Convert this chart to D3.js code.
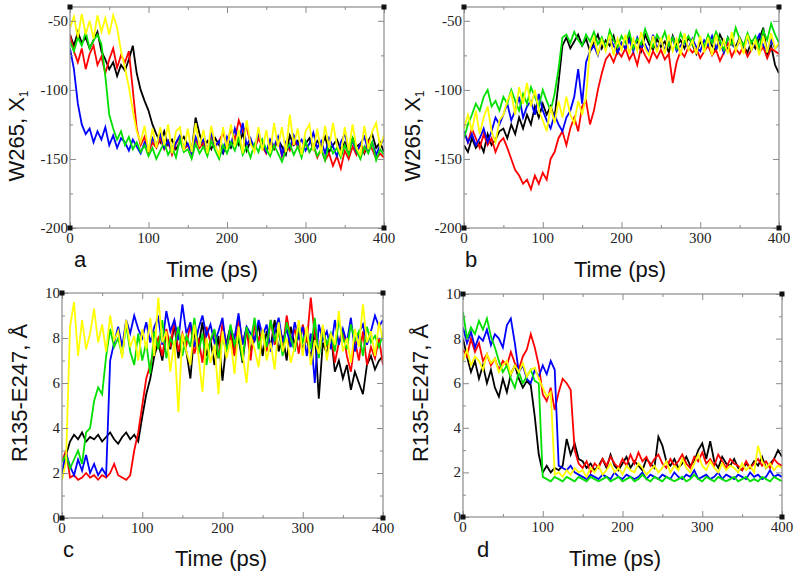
<!DOCTYPE html>
<html>
<head>
<meta charset="utf-8">
<script src="https://cdn.jsdelivr.net/npm/d3@7"></script>
<style>
  body { margin: 0; background: #fff; }
  svg { display: block; }
</style>
</head>
<body>
<svg id="chart" width="800" height="580"></svg>
<script>
// ---- DATA (sampled every 5 ps, 0..400) ----
const times = d3.range(0, 401, 5);
const seriesNames = ["black", "red", "blue", "green", "yellow"];
const xTicks = [0, 100, 200, 300, 400];
const xMinorTicks = [50, 150, 250, 350];
const chiTicks = [-200, -150, -100, -50];
const chiMinorTicks = [-175, -125, -75];
const distTicks = [0, 2, 4, 6, 8, 10];
const distMinorTicks = [1, 3, 5, 7, 9];

// Panel a : W265 chi1
const a_black = [-60,-68,-58,-66,-62,-70,-64,-58,-72,-78,
  -85,-80,-90,-82,-86,-78,-68,-88,-100,-108,
  -115,-125,-132,-138,-130,-140,-136,-143,-138,-134,
  -140,-145,-120,-132,-141,-137,-143,-135,-140,-146,
  -138,-142,-135,-140,-131,-144,-137,-142,-134,-140,
  -145,-138,-143,-136,-141,-147,-133,-140,-137,-144,
  -139,-135,-143,-137,-141,-134,-145,-140,-136,-143,
  -138,-144,-135,-141,-139,-146,-137,-132,-142,-138,
  -145];
const a_red = [-60,-72,-80,-70,-85,-74,-68,-82,-76,-88,
  -78,-70,-84,-75,-80,-72,-100,-128,-140,-134,
  -145,-138,-142,-135,-143,-137,-147,-139,-134,-143,
  -140,-146,-136,-142,-138,-145,-133,-141,-137,-131,
  -140,-128,-136,-122,-130,-127,-139,-143,-135,-141,
  -146,-137,-142,-135,-148,-139,-144,-136,-141,-147,
  -138,-145,-140,-149,-143,-151,-146,-155,-148,-157,
  -144,-150,-141,-147,-139,-145,-137,-143,-150,-146,
  -149];
const a_blue = [-70,-85,-110,-125,-132,-128,-138,-130,-136,-127,
  -140,-133,-142,-135,-138,-144,-136,-141,-146,-138,
  -143,-135,-140,-132,-142,-137,-145,-138,-133,-142,
  -139,-146,-134,-140,-136,-144,-131,-141,-137,-145,
  -134,-140,-128,-138,-124,-140,-135,-143,-131,-139,
  -145,-136,-141,-134,-147,-138,-142,-133,-140,-136,
  -144,-139,-131,-142,-137,-146,-135,-141,-148,-138,
  -132,-143,-137,-145,-139,-134,-144,-138,-147,-140,
  -136];
const a_green = [-65,-72,-62,-68,-58,-70,-64,-60,-67,-90,
  -118,-128,-136,-130,-140,-134,-143,-138,-145,-140,
  -148,-142,-150,-144,-138,-147,-141,-149,-136,-145,
  -143,-150,-139,-146,-141,-148,-137,-144,-150,-140,
  -146,-138,-144,-135,-147,-141,-149,-139,-145,-136,
  -143,-148,-140,-146,-152,-144,-139,-147,-141,-149,
  -137,-145,-140,-148,-143,-151,-139,-146,-142,-149,
  -140,-147,-135,-144,-150,-141,-146,-138,-151,-143,
  -147];
const a_yellow = [-55,-47,-62,-45,-60,-50,-63,-46,-58,-48,
  -60,-46,-55,-72,-84,-98,-115,-130,-138,-126,
  -145,-128,-142,-127,-140,-125,-146,-130,-127,-144,
  -128,-145,-124,-141,-129,-146,-126,-140,-147,-127,
  -143,-125,-141,-129,-146,-122,-139,-145,-127,-144,
  -129,-146,-124,-141,-127,-145,-118,-140,-128,-147,
  -130,-125,-144,-128,-146,-126,-142,-124,-140,-147,
  -127,-144,-125,-142,-147,-126,-143,-130,-124,-141,
  -133];

// Panel b : W265 chi1
const b_black = [-140,-145,-135,-142,-138,-145,-132,-140,-136,-130,
  -128,-135,-125,-132,-120,-128,-118,-125,-112,-120,
  -110,-118,-112,-120,-95,-68,-62,-70,-65,-60,
  -68,-63,-72,-66,-60,-70,-64,-68,-61,-73,
  -66,-70,-62,-69,-64,-72,-60,-67,-71,-63,
  -69,-65,-73,-61,-68,-64,-70,-62,-67,-74,
  -65,-70,-63,-68,-72,-60,-66,-71,-64,-69,
  -62,-68,-73,-65,-70,-63,-55,-75,-68,-82,
  -88];
const b_red = [-130,-138,-128,-135,-142,-132,-140,-135,-145,-138,
  -135,-142,-150,-158,-162,-168,-165,-172,-162,-168,
  -160,-165,-150,-145,-135,-130,-140,-128,-120,-130,
  -112,-108,-125,-115,-100,-88,-78,-74,-80,-72,
  -76,-70,-78,-73,-82,-69,-75,-80,-72,-77,
  -71,-78,-74,-95,-80,-72,-76,-69,-73,-70,
  -77,-72,-68,-75,-71,-79,-73,-66,-76,-70,
  -74,-68,-76,-71,-65,-73,-69,-77,-70,-72,
  -74];
const b_blue = [-130,-138,-132,-140,-135,-128,-138,-130,-120,-125,
  -118,-110,-122,-115,-105,-120,-112,-108,-118,-103,
  -115,-122,-128,-118,-125,-130,-120,-115,-105,-85,
  -110,-80,-72,-68,-75,-65,-70,-62,-68,-73,
  -66,-70,-64,-72,-62,-69,-67,-73,-60,-70,
  -64,-71,-66,-62,-72,-68,-65,-70,-63,-69,
  -72,-64,-68,-61,-70,-66,-73,-62,-67,-70,
  -65,-69,-62,-71,-66,-60,-68,-72,-64,-70,
  -67];
const b_green = [-135,-125,-118,-110,-115,-105,-100,-112,-108,-115,
  -105,-110,-100,-108,-115,-103,-110,-98,-105,-112,
  -100,-108,-115,-103,-85,-62,-60,-66,-58,-64,
  -68,-60,-65,-58,-67,-62,-70,-57,-64,-69,
  -61,-66,-58,-70,-63,-67,-56,-64,-69,-60,
  -65,-58,-68,-62,-70,-59,-66,-61,-67,-57,
  -63,-69,-60,-66,-58,-64,-71,-62,-67,-55,
  -63,-68,-59,-66,-61,-70,-57,-64,-52,-60,
  -66];
const b_yellow = [-128,-118,-130,-115,-132,-120,-112,-130,-138,-122,
  -118,-108,-102,-118,-98,-110,-95,-112,-100,-115,
  -122,-130,-112,-124,-108,-120,-105,-118,-124,-108,
  -118,-105,-70,-62,-74,-64,-72,-60,-75,-63,
  -71,-60,-74,-63,-72,-58,-70,-75,-61,-73,
  -62,-74,-60,-72,-63,-75,-59,-71,-64,-74,
  -61,-73,-62,-75,-60,-71,-64,-74,-58,-72,
  -63,-74,-60,-71,-64,-75,-61,-73,-59,-70,
  -66];

// Panel c : R135-E247 distance
const c_black = [2.0,2.8,3.4,3.7,3.5,3.8,3.4,3.6,3.5,3.7,
  3.4,3.6,3.8,3.5,3.3,3.6,3.8,3.5,3.7,3.4,
  4.5,5.5,6.2,7.2,7.8,7.0,8.2,7.5,8.6,7.1,
  8.0,7.4,6.2,8.3,7.6,8.7,7.2,7.9,6.8,8.1,
  6.1,7.8,8.5,7.3,8.0,6.9,8.4,7.5,7.9,8.6,
  7.2,8.3,7.6,8.8,7.4,8.1,7.0,8.5,7.7,8.2,
  7.5,8.0,7.1,8.4,5.3,7.8,7.3,8.2,6.5,7.0,
  6.2,6.8,5.7,6.5,6.0,5.5,6.8,7.2,6.6,7.0,
  7.2];
const c_red = [2.5,3.0,1.8,1.9,1.7,1.8,2.0,1.8,1.9,1.7,
  1.9,1.8,2.0,2.4,1.9,1.8,1.7,1.9,3.0,3.8,
  5.0,6.2,6.8,7.5,8.0,7.2,8.4,7.6,8.8,7.4,
  8.2,7.7,8.6,7.3,8.0,6.9,8.5,7.8,8.3,7.1,
  8.7,7.6,8.1,7.2,8.9,7.8,8.4,7.0,8.6,7.9,
  8.3,7.4,8.8,7.7,8.2,7.5,9.0,7.9,8.4,7.3,
  8.6,7.8,9.8,8.1,7.4,8.5,7.6,8.2,6.9,7.8,
  8.4,7.2,6.5,7.9,7.0,8.3,6.8,7.6,7.1,8.0,
  6.8];
const c_blue = [2.0,2.9,2.3,1.9,2.6,2.1,2.8,2.0,2.4,1.9,
  2.2,1.9,7.0,7.8,8.5,7.6,8.8,8.2,9.0,8.4,
  8.0,8.7,7.8,8.5,8.9,7.7,9.2,8.3,8.8,7.9,
  9.5,8.2,8.7,7.6,8.4,9.0,8.1,8.6,7.8,8.3,
  8.9,7.5,8.4,8.0,9.1,7.7,8.5,8.2,7.9,8.8,
  8.1,8.6,7.4,8.3,8.9,7.8,8.4,7.6,8.7,8.0,
  8.5,7.2,8.2,6.0,8.6,7.9,8.3,7.5,8.8,7.7,
  8.4,7.8,8.9,7.4,8.2,8.6,7.7,8.3,9.0,8.5,
  8.8];
const c_green = [2.5,2.8,2.2,2.6,3.0,2.4,3.8,4.0,5.2,5.8,
  5.5,7.2,8.4,7.6,8.0,7.2,8.6,7.4,6.8,8.2,
  7.0,7.8,6.4,8.3,7.5,8.8,7.1,8.0,7.6,8.5,
  7.2,8.1,7.6,8.9,7.3,8.2,6.8,7.9,8.4,7.1,
  8.0,7.4,8.6,7.7,8.2,7.0,8.5,7.8,8.9,7.5,
  8.3,7.6,8.8,7.9,8.4,7.2,8.7,8.0,7.4,8.6,
  7.8,8.3,7.5,8.9,7.1,8.4,7.7,8.2,7.4,8.8,
  8.0,7.5,8.6,7.9,8.3,7.2,8.5,7.8,8.1,7.6,
  8.2];
const c_yellow = [1.7,2.5,8.5,9.6,7.2,8.8,7.5,8.2,9.3,7.8,
  8.6,7.4,9.0,7.9,8.3,7.1,8.8,7.6,8.1,7.0,
  8.4,7.5,8.9,7.2,9.8,7.8,8.3,6.5,7.9,4.7,
  8.2,7.4,6.8,8.6,7.2,5.6,8.0,6.9,7.7,5.5,
  8.3,7.1,7.9,6.4,8.5,7.3,6.0,8.1,7.5,6.7,
  8.4,7.0,7.8,6.6,8.7,7.4,8.0,6.9,7.6,8.8,
  7.2,8.5,6.8,7.9,7.3,8.6,7.0,8.2,7.7,9.2,
  7.4,8.0,6.9,8.4,7.6,9.5,7.8,8.3,7.2,8.7,
  7.9];

// Panel d : R135-E247 distance
const d_black = [8.0,7.2,6.5,7.0,6.2,6.8,6.0,6.6,5.8,5.4,
  6.2,5.6,6.4,6.8,6.2,5.8,6.1,5.9,4.5,2.8,
  2.0,2.3,2.0,2.2,2.1,2.3,3.5,2.8,3.3,2.6,
  2.5,2.2,2.4,2.1,2.3,2.6,2.2,2.8,2.3,2.1,
  2.4,2.7,2.2,2.5,2.3,2.1,2.6,2.4,2.2,3.6,
  3.2,2.5,2.3,2.6,2.2,2.4,2.7,2.3,2.5,3.0,
  3.3,2.6,3.4,2.5,2.2,2.7,2.4,2.3,2.6,2.2,
  2.1,2.4,2.2,2.5,2.3,2.7,2.2,2.4,2.6,3.0,
  2.7];
const d_red = [7.5,7.2,8.0,7.4,7.8,7.0,7.3,6.8,7.1,6.6,
  7.0,6.8,7.4,6.9,6.6,7.2,7.5,8.2,7.6,6.8,
  5.5,5.2,5.8,4.8,5.6,6.2,6.0,5.7,3.0,2.4,
  2.2,2.5,2.0,2.4,2.2,2.6,2.3,2.7,2.4,2.2,
  2.6,2.3,2.8,2.4,2.9,2.5,2.7,2.3,2.6,2.8,
  2.4,2.2,2.6,2.3,2.5,2.8,2.4,2.2,2.7,2.5,
  2.9,2.4,2.6,2.3,2.8,2.5,2.2,2.6,2.4,2.3,
  2.1,2.5,2.2,2.4,2.6,2.3,2.5,2.2,2.6,2.4,
  2.3];
const d_blue = [8.5,7.8,8.3,7.6,8.1,7.9,8.4,7.7,8.2,8.0,
  7.6,8.6,8.9,7.8,6.5,6.8,6.2,6.0,6.6,6.3,
  6.8,6.4,7.0,6.6,2.3,2.2,2.1,2.3,2.0,1.9,
  1.8,1.7,1.9,1.8,1.7,1.9,1.8,1.7,2.0,1.8,
  1.7,1.9,1.8,1.7,1.8,2.0,1.7,1.9,1.8,1.7,
  1.9,1.8,1.7,2.0,1.8,1.7,1.9,1.8,2.1,1.7,
  1.8,1.9,1.7,1.8,2.0,1.7,1.9,1.8,1.7,1.9,
  1.8,1.7,2.0,1.8,1.9,1.7,1.8,2.1,1.8,1.9,
  1.8];
const d_green = [9.2,8.0,8.5,8.2,8.8,8.4,8.9,8.1,7.6,7.0,
  6.5,6.8,6.2,5.8,6.5,6.0,6.3,6.6,6.1,6.0,
  1.8,1.7,1.6,1.8,1.7,1.6,1.8,1.7,1.6,1.8,
  1.7,1.6,1.8,1.7,1.6,1.7,1.8,1.6,1.7,1.8,
  1.6,1.7,1.8,1.6,1.7,1.9,1.7,1.6,1.8,1.7,
  1.6,1.8,1.7,1.6,1.7,1.8,1.6,1.7,1.9,1.7,
  1.6,1.8,1.7,1.6,1.8,1.7,1.6,1.7,1.8,1.6,
  1.7,1.8,1.6,1.7,1.6,1.8,1.7,1.6,1.8,1.7,
  1.6];
const d_yellow = [7.0,7.5,6.8,7.2,7.0,6.6,7.3,6.9,7.1,6.5,
  6.8,7.0,6.4,6.8,6.5,6.9,6.3,6.6,6.7,6.2,
  5.8,5.4,5.6,1.9,2.0,1.8,2.1,1.9,2.2,2.0,
  2.1,1.8,2.2,2.0,2.3,1.9,2.1,2.4,2.0,2.2,
  1.9,2.3,2.1,2.0,2.4,2.2,1.9,2.1,2.3,2.0,
  2.2,2.5,2.0,2.3,2.1,2.6,2.2,2.0,2.4,2.8,
  2.3,2.1,2.5,2.2,2.0,2.4,2.1,2.3,2.2,2.0,
  2.4,2.1,2.3,2.0,3.2,2.5,2.2,2.4,2.1,2.3,
  2.2];

// ---- STYLE / LAYOUT ----
const colors = { black: "#000000", red: "#ff0000", blue: "#0000ff", green: "#00e000", yellow: "#ffff00" };

const panels = [
  { letter: "a", x0: 70, x1: 384, y0: 7, y1: 228, domain: [-200, -40], ticks: chiTicks, minor: chiMinorTicks,
    ylabel: "W265, X", sub: "1", ylabX: 24, ylabY: 136, timeX: 212, timeY: 277, letX: 74, letY: 267,
    data: { black: a_black, red: a_red, blue: a_blue, green: a_green, yellow: a_yellow } },
  { letter: "b", x0: 464, x1: 779, y0: 7, y1: 228, domain: [-200, -40], ticks: chiTicks, minor: chiMinorTicks,
    ylabel: "W265, X", sub: "1", ylabX: 420, ylabY: 136, timeX: 620, timeY: 277, letX: 465, letY: 267,
    data: { black: b_black, red: b_red, blue: b_blue, green: b_green, yellow: b_yellow } },
  { letter: "c", x0: 62, x1: 383, y0: 293, y1: 518, domain: [0, 10], ticks: distTicks, minor: distMinorTicks,
    ylabel: "R135-E247, Å", sub: "", ylabX: 27, ylabY: 393, timeX: 221, timeY: 566, letX: 63, letY: 557,
    data: { black: c_black, red: c_red, blue: c_blue, green: c_green, yellow: c_yellow } },
  { letter: "d", x0: 463, x1: 782, y0: 294, y1: 517, domain: [0, 10], ticks: distTicks, minor: distMinorTicks,
    ylabel: "R135-E247, Å", sub: "", ylabX: 428, ylabY: 393, timeX: 615, timeY: 566, letX: 477, letY: 557,
    data: { black: d_black, red: d_red, blue: d_blue, green: d_green, yellow: d_yellow } }
];

const svg = d3.select("#chart");
const frameColor = "#8a8a8a";
const serif = "'Liberation Serif', 'Times New Roman', serif";
const sans = "'Liberation Sans', Arial, sans-serif";

panels.forEach(p => {
  const x = d3.scaleLinear().domain([0, 400]).range([p.x0, p.x1]);
  const y = d3.scaleLinear().domain(p.domain).range([p.y1, p.y0]);
  const g = svg.append("g");

  const clipId = "clip-" + p.letter;
  g.append("clipPath").attr("id", clipId).append("rect")
    .attr("x", p.x0).attr("y", p.y0).attr("width", p.x1 - p.x0).attr("height", p.y1 - p.y0);

  const line = d3.line().x((d, i) => x(times[i])).y(d => y(d));
  const lg = g.append("g").attr("clip-path", `url(#${clipId})`);
  seriesNames.forEach(name => {
    lg.append("path")
      .datum(p.data[name])
      .attr("d", line)
      .attr("fill", "none")
      .attr("stroke", colors[name])
      .attr("stroke-width", 1.8)
      .attr("stroke-linejoin", "miter");
  });

  g.append("rect")
    .attr("x", p.x0).attr("y", p.y0).attr("width", p.x1 - p.x0).attr("height", p.y1 - p.y0)
    .attr("fill", "none").attr("stroke", frameColor).attr("stroke-width", 1.2);

  const tickStyle = sel => {
    sel.select(".domain").remove();
    sel.selectAll(".tick line").attr("stroke", frameColor).attr("stroke-width", 1);
    sel.selectAll("text").remove();
  };
  g.append("g").attr("transform", `translate(0,${p.y1})`)
    .call(d3.axisTop(x).tickValues(xTicks).tickSize(6)).call(tickStyle);
  g.append("g").attr("transform", `translate(0,${p.y1})`)
    .call(d3.axisTop(x).tickValues(xMinorTicks).tickSize(3)).call(tickStyle);
  g.append("g").attr("transform", `translate(0,${p.y0})`)
    .call(d3.axisBottom(x).tickValues(xTicks).tickSize(6)).call(tickStyle);
  g.append("g").attr("transform", `translate(0,${p.y0})`)
    .call(d3.axisBottom(x).tickValues(xMinorTicks).tickSize(3)).call(tickStyle);
  g.append("g").attr("transform", `translate(${p.x0},0)`)
    .call(d3.axisRight(y).tickValues(p.ticks).tickSize(6)).call(tickStyle);
  g.append("g").attr("transform", `translate(${p.x0},0)`)
    .call(d3.axisRight(y).tickValues(p.minor).tickSize(3)).call(tickStyle);
  g.append("g").attr("transform", `translate(${p.x1},0)`)
    .call(d3.axisLeft(y).tickValues(p.ticks).tickSize(6)).call(tickStyle);
  g.append("g").attr("transform", `translate(${p.x1},0)`)
    .call(d3.axisLeft(y).tickValues(p.minor).tickSize(3)).call(tickStyle);

  [[p.x0, p.y0], [p.x1, p.y0], [p.x0, p.y1], [p.x1, p.y1]].forEach(c => {
    g.append("rect").attr("x", c[0] - 2.5).attr("y", c[1] - 2.5).attr("width", 5).attr("height", 5)
      .attr("fill", "#111");
  });

  g.selectAll(".xl").data(xTicks).enter().append("text")
    .attr("x", d => x(d)).attr("y", p.y1 + 15)
    .attr("text-anchor", "middle")
    .attr("font-family", serif).attr("font-size", 15).attr("fill", "#222")
    .text(d => d);
  g.selectAll(".yl").data(p.ticks).enter().append("text")
    .attr("x", p.x0 - 2).attr("y", d => y(d) + 5)
    .attr("text-anchor", "end")
    .attr("font-family", serif).attr("font-size", 15).attr("fill", "#222")
    .text(d => d);

  const yt = g.append("text")
    .attr("transform", `translate(${p.ylabX},${p.ylabY}) rotate(-90)`)
    .attr("text-anchor", "middle")
    .attr("font-family", sans).attr("font-size", 22).attr("fill", "#111")
    .text(p.ylabel);
  if (p.sub) {
    yt.append("tspan").attr("font-size", 12).attr("dy", 4).text(p.sub);
  }

  g.append("text")
    .attr("x", p.timeX).attr("y", p.timeY)
    .attr("text-anchor", "middle")
    .attr("font-family", sans).attr("font-size", 22).attr("fill", "#111")
    .text("Time (ps)");

  g.append("text")
    .attr("x", p.letX).attr("y", p.letY)
    .attr("font-family", sans).attr("font-size", 22).attr("fill", "#111")
    .text(p.letter);
});
</script>
</body>
</html>
